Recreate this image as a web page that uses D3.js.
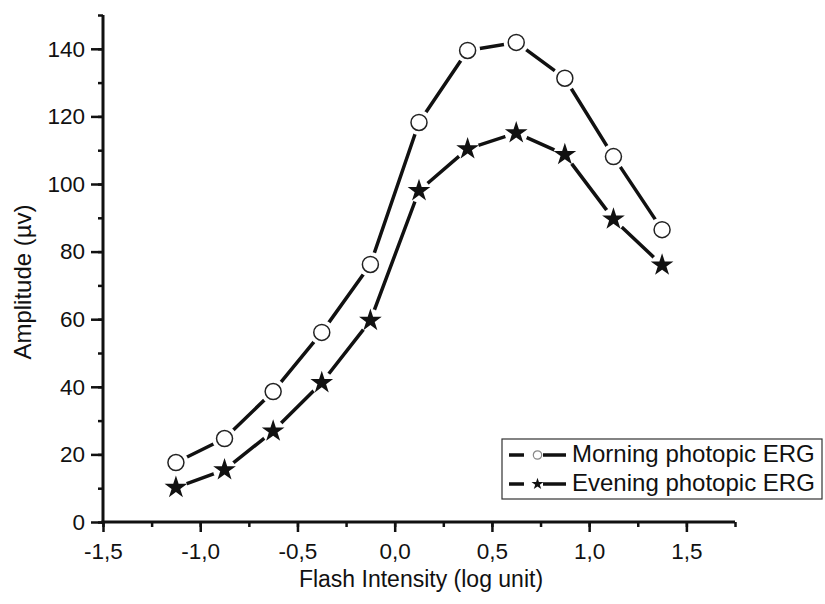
<!DOCTYPE html>
<html>
<head>
<meta charset="utf-8">
<script src="https://cdn.jsdelivr.net/npm/d3@7"></script>
<style>
  body { margin: 0; background: #fff; }
  text { font-family: Arial, "Liberation Sans", sans-serif; fill: #111; }
</style>
</head>
<body>
<div id="main"></div>
<script>
const width = 825;
const height = 604;
const margin = { left: 103, right: 90, top: 15, bottom: 82 };

// flash intensity (log unit)
const intensity = [-1.125, -0.875, -0.625, -0.375, -0.125, 0.125, 0.375, 0.625, 0.875, 1.125, 1.375];
// amplitude (µv)
const morning = [17.6, 24.7, 38.6, 56.1, 76.2, 118.2, 139.5, 141.9, 131.3, 108.1, 86.5];
const evening = [10.2, 15.4, 26.9, 41.2, 59.6, 98.0, 110.4, 115.1, 108.7, 89.6, 76.0];
const xTicks = [-1.5, -1.0, -0.5, 0.0, 0.5, 1.0, 1.5];
const yTicks = [0, 20, 40, 60, 80, 100, 120, 140];
const seriesNames = ["Morning photopic ERG", "Evening photopic ERG"];

const svg = d3
  .select("#main")
  .append("svg")
  .attr("width", width)
  .attr("height", height);

const x = d3.scaleLinear().domain([-1.5, 1.75]).range([margin.left, width - margin.right]);
const y = d3.scaleLinear().domain([0, 150]).range([height - margin.bottom, margin.top]);

const fmt = (d) => d3.format(".1f")(d).replace(".", ",").replace("−", "-");

// axes
const xAxis = svg.append("g").attr("transform", `translate(0,${y(0)})`);
xAxis
  .call(d3.axisBottom(x).tickValues(d3.range(-1.5, 1.76, 0.25)).tickSize(5).tickFormat(""))
  .call((g) => g.select(".domain").remove());
xAxis
  .append("g")
  .call(d3.axisBottom(x).tickValues(xTicks).tickSize(10).tickPadding(11).tickFormat(fmt))
  .call((g) => g.select(".domain").remove());

const yAxis = svg.append("g").attr("transform", `translate(${x(-1.5)},0)`);
yAxis
  .call(d3.axisLeft(y).tickValues(d3.range(0, 151, 10)).tickSize(5).tickFormat(""))
  .call((g) => g.select(".domain").remove());
yAxis
  .append("g")
  .call(d3.axisLeft(y).tickValues(yTicks).tickSize(12).tickPadding(6).tickFormat(d3.format("d")))
  .call((g) => g.select(".domain").remove());

svg.selectAll(".tick line").attr("stroke", "#111").attr("stroke-width", 2.5);
svg.selectAll(".tick text")
  .style("font-size", "22.5px")
  .style("font-family", "Arial, 'Liberation Sans', sans-serif")
  .attr("fill", "#111");

// axis lines
svg.append("line")
  .attr("x1", x(-1.5) - 1.5).attr("x2", x(1.75))
  .attr("y1", y(0)).attr("y2", y(0))
  .attr("stroke", "#111").attr("stroke-width", 3);
svg.append("line")
  .attr("x1", x(-1.5)).attr("x2", x(-1.5))
  .attr("y1", y(0) + 1.5).attr("y2", y(150))
  .attr("stroke", "#111").attr("stroke-width", 3);

// axis titles
svg.append("text")
  .attr("x", 421).attr("y", 587)
  .attr("text-anchor", "middle")
  .style("font-size", "23px")
  .text("Flash Intensity (log unit)");
svg.append("text")
  .attr("transform", `translate(31,282) rotate(-90)`)
  .attr("text-anchor", "middle")
  .style("font-size", "24px")
  .text("Amplitude (µv)");

// lines
const line = d3.line().x((d, i) => x(intensity[i])).y((d) => y(d));
const plot = svg.append("g");
[morning, evening].forEach((s) => {
  plot.append("path")
    .attr("d", line(s))
    .attr("fill", "none")
    .attr("stroke", "#111")
    .attr("stroke-width", 3.5)
    .attr("stroke-linejoin", "round");
});

// white gaps around markers
[morning, evening].forEach((s, k) => {
  plot.append("g")
    .selectAll("circle")
    .data(s)
    .enter()
    .append("circle")
    .attr("cx", (d, i) => x(intensity[i]))
    .attr("cy", (d) => y(d))
    .attr("r", k === 0 ? 12.5 : 11.5)
    .attr("fill", "#fff");
});

// markers
plot.append("g")
  .selectAll("circle")
  .data(morning)
  .enter()
  .append("circle")
  .attr("cx", (d, i) => x(intensity[i]))
  .attr("cy", (d) => y(d))
  .attr("r", 8)
  .attr("fill", "#fff")
  .attr("stroke", "#222")
  .attr("stroke-width", 1.5);

const star = d3.symbol().type(d3.symbolStar).size(160);
plot.append("g")
  .selectAll("path")
  .data(evening)
  .enter()
  .append("path")
  .attr("d", star)
  .attr("transform", (d, i) => `translate(${x(intensity[i])},${y(d)})`)
  .attr("fill", "#111");

// legend
const legend = svg.append("g").attr("transform", "translate(502,439)");
legend.append("rect")
  .attr("width", 320).attr("height", 60)
  .attr("fill", "#fff").attr("stroke", "#333").attr("stroke-width", 1.2);
seriesNames.forEach((name, i) => {
  const row = legend.append("g").attr("transform", `translate(0,${16 + i * 29})`);
  row.append("line").attr("x1", 7).attr("x2", 22).attr("stroke", "#111").attr("stroke-width", 3.5);
  row.append("line").attr("x1", 41).attr("x2", 64).attr("stroke", "#111").attr("stroke-width", 3.5);
  if (i === 0) {
    row.append("circle").attr("cx", 35.5).attr("r", 4.2)
      .attr("fill", "#fff").attr("stroke", "#888").attr("stroke-width", 1.2);
  } else {
    row.append("path").attr("d", d3.symbol().type(d3.symbolStar).size(45))
      .attr("transform", "translate(35.5,0)").attr("fill", "#111");
  }
  row.append("text")
    .attr("x", 70).attr("y", 7)
    .style("font-size", "24px")
    .text(name);
});
</script>
</body>
</html>
